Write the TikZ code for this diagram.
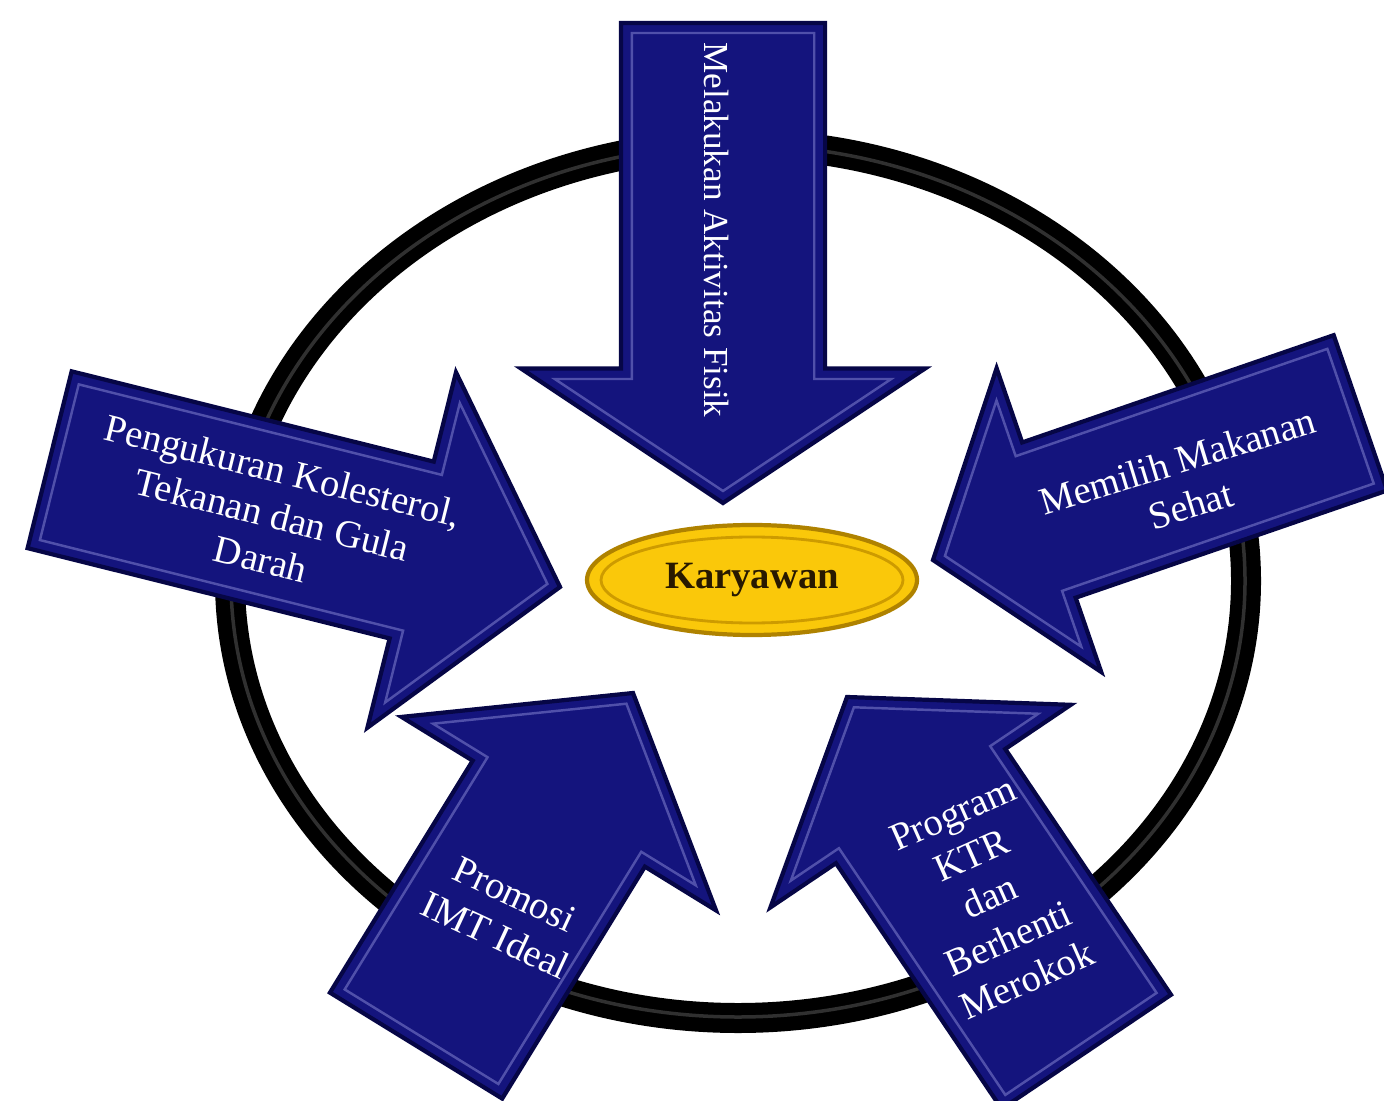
\documentclass[tikz,border=0pt]{standalone}
\usepackage{fontspec}
\setmainfont{Liberation Serif}
\usetikzlibrary{shapes.geometric, shapes.arrows, positioning}
\definecolor{arrowblue}{RGB}{20,20,125}
\definecolor{arrowedge}{RGB}{6,6,70}
\definecolor{arrowbevel}{RGB}{80,80,170}
\definecolor{ringgrey}{RGB}{48,48,48}
\definecolor{gold}{RGB}{250,200,10}
\definecolor{goldedge}{RGB}{175,130,0}
\definecolor{goldbevel}{RGB}{205,155,0}
\definecolor{darkbrown}{RGB}{40,25,0}

\begin{document}
\begin{tikzpicture}[
        blockarrow/.style={single arrow, fill=arrowblue, draw=arrowedge, line width=1.2pt, inner xsep=0pt, outer sep=0pt, anchor=tip},
        bevelarrow/.style={single arrow, draw=arrowbevel, line width=0.7pt, inner xsep=0pt, outer sep=0pt, anchor=tip},
        armtext/.style={text=white, font=\fontsize{11}{13}\selectfont, align=center},
        centre/.style={ellipse, fill=gold, draw=goldedge, line width=1.2pt, minimum width=3.3cm, minimum height=1.1cm},
        centrebevel/.style={ellipse, draw=goldbevel, line width=0.8pt, minimum width=3.02cm, minimum height=0.86cm}
    ]
        \useasboundingbox (0,0) rectangle (13.84,-11.01);

        % ring behind the arrows
        \draw[line width=0.3cm, black] (7.38,-5.81) ellipse [x radius=5.08cm, y radius=4.37cm];
        \draw[line width=0.035cm, ringgrey] (7.38,-5.81) ellipse [x radius=5.07cm, y radius=4.36cm];

        % top arrow
        \node[blockarrow, rotate=-90, minimum height=4.80cm, inner ysep=1.00cm, single arrow head extend=1.00cm, single arrow tip angle=112.7] (aktivitas) at (7.23,-5.03) {};
        \node[bevelarrow, rotate=-90, minimum height=4.58cm, inner ysep=0.90cm, single arrow head extend=0.77cm, single arrow tip angle=112.7] (aktivitasin) at (7.23,-4.91) {};
        \node[armtext, rotate=-90, font=\fontsize{10}{12}\selectfont] (aktivitastxt) at (7.17,-2.30) {Melakukan Aktivitas Fisik};

        % left arrow
        \node[blockarrow, rotate=-14, minimum height=5.26cm, inner ysep=0.89cm, single arrow head extend=0.92cm, single arrow tip angle=100.3] (ukur) at (5.60,-5.87) {};
        \node[bevelarrow, rotate=-14, minimum height=5.03cm, inner ysep=0.79cm, single arrow head extend=0.74cm, single arrow tip angle=100.3] (ukurin) at (5.474,-5.839) {};
        \node[armtext, rotate=-14] (ukurtxt) at (2.72,-5.15) {Pengukuran Kolesterol,\\Tekanan dan Gula\\Darah};

        % right arrow
        \node[blockarrow, rotate=199, minimum height=4.52cm, inner ysep=0.80cm, single arrow head extend=0.785cm, single arrow tip angle=105.3] (makanan) at (9.33,-5.60) {};
        \node[bevelarrow, rotate=199, minimum height=4.29cm, inner ysep=0.70cm, single arrow head extend=0.59cm, single arrow tip angle=105.3] (makananin) at (9.449,-5.559) {};
        \node[armtext, rotate=17] (makanantxt) at (11.84,-4.83) {Memilih Makanan\\Sehat};

        % bottom left arrow
        \node[blockarrow, rotate=58.4, minimum height=4.14cm, inner ysep=0.99cm, single arrow head extend=0.835cm, single arrow tip angle=105] (imt) at (6.33,-6.93) {};
        \node[bevelarrow, rotate=58.4, minimum height=3.91cm, inner ysep=0.89cm, single arrow head extend=0.64cm, single arrow tip angle=105] (imtin) at (6.264,-7.037) {};
        \node[armtext, rotate=-25] (imttxt) at (5.05,-9.15) {Promosi\\IMT Ideal};

        % bottom right arrow
        \node[blockarrow, rotate=124, minimum height=4.28cm, inner ysep=1.00cm, single arrow head extend=0.79cm, single arrow tip angle=108] (ktr) at (8.47,-6.97) {};
        \node[bevelarrow, rotate=124, minimum height=4.06cm, inner ysep=0.90cm, single arrow head extend=0.58cm, single arrow tip angle=108] (ktrin) at (8.539,-7.073) {};
        \node[armtext, rotate=24] (ktrtxt) at (9.90,-8.97) {Program\\KTR\\dan\\Berhenti\\Merokok};

        % centre
        \node[centre] (karyawan) at (7.52,-5.80) {};
        \node[centrebevel] (karyawanin) at (7.52,-5.80) {};
        \node[text=darkbrown, font=\fontsize{11}{13}\selectfont\bfseries] (karyawantxt) at (7.52,-5.80) {Karyawan};
    \end{tikzpicture}
\end{document}
